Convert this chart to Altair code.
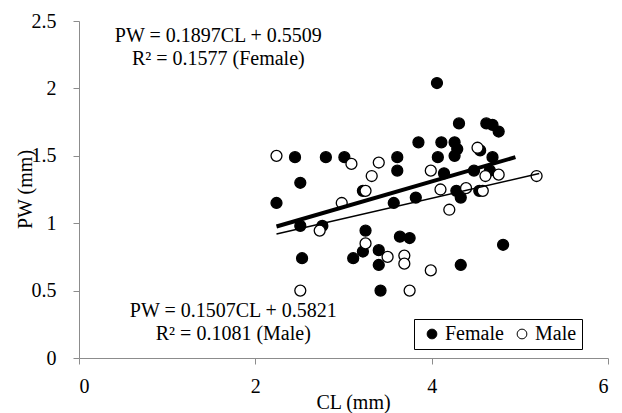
import altair as alt
import pandas as pd

# ---- data ----
female_cl = [2.24, 2.45, 2.51, 2.51, 2.53, 2.76, 2.80, 3.01, 3.11, 3.22, 3.22, 3.25, 3.40, 3.40,
             3.42, 3.57, 3.61, 3.61, 3.64, 3.75, 3.82, 3.85, 4.06, 4.07, 4.11, 4.14, 4.26, 4.26,
             4.29, 4.28, 4.31, 4.33, 4.33, 4.48, 4.54, 4.55, 4.62, 4.69, 4.69, 4.76, 4.81, 4.66]
female_pw = [1.15, 1.49, 1.30, 0.98, 0.74, 0.98, 1.49, 1.49, 0.74, 0.79, 1.24, 0.945, 0.80, 0.69,
             0.50, 1.15, 1.49, 1.39, 0.90, 0.89, 1.19, 1.60, 2.04, 1.49, 1.60, 1.37, 1.60, 1.50,
             1.55, 1.24, 1.74, 1.19, 0.69, 1.39, 1.24, 1.54, 1.74, 1.73, 1.49, 1.68, 0.84, 1.39]
male_cl = [2.24, 2.51, 2.73, 2.98, 3.09, 3.25, 3.25, 3.32, 3.40, 3.50, 3.69, 3.69, 3.75, 3.99,
           3.99, 4.10, 4.20, 4.39, 4.52, 4.58, 4.61, 4.76, 5.19]
male_pw = [1.50, 0.50, 0.945, 1.15, 1.44, 1.24, 0.85, 1.35, 1.45, 0.75, 0.76, 0.70, 0.50, 1.39,
           0.65, 1.25, 1.10, 1.26, 1.56, 1.24, 1.35, 1.36, 1.35]

trend_sex = ["Female", "Male"]
trend_slope = [0.1897, 0.1507]
trend_intercept = [0.5509, 0.5821]
trend_xmin = [2.24, 2.24]
trend_xmax = [4.95, 5.22]

eq_text = ["PW = 0.1897CL + 0.5509", "R\u00b2 = 0.1577 (Female)",
           "PW = 0.1507CL + 0.5821", "R\u00b2 = 0.1081 (Male)"]
eq_x = [1.58, 1.58, 1.75, 1.75]
eq_y = [2.39, 2.215, 0.345, 0.18]

x_ticks = [0, 2, 4, 6]
y_ticks = [0, 0.5, 1, 1.5, 2, 2.5]

# ---- tables ----
pts = pd.DataFrame({
    "CL": female_cl + male_cl,
    "PW": female_pw + male_pw,
    "Sex": ["Female"] * len(female_cl) + ["Male"] * len(male_cl),
})
trend_rows = []
for s, m, b, x0, x1 in zip(trend_sex, trend_slope, trend_intercept, trend_xmin, trend_xmax):
    trend_rows.append({"Sex": s, "CL": x0, "PW": m * x0 + b})
    trend_rows.append({"Sex": s, "CL": x1, "PW": m * x1 + b})
trend = pd.DataFrame(trend_rows)
eqs = pd.DataFrame({"x": eq_x, "y": eq_y, "t": eq_text})

FONT = "Liberation Serif"
GREY = "#8c8c8c"
FS = 20

x_scale = alt.Scale(domain=[0, 6], nice=False, zero=False)
y_scale = alt.Scale(domain=[0, 2.5], nice=False, zero=False)

x_enc = alt.X("CL:Q", scale=x_scale, axis=alt.Axis(
    title="CL (mm)", values=x_ticks, format="~g", grid=False,
    domainColor=GREY, tickColor=GREY, tickSize=6, labelPadding=12,
    labelFont=FONT, labelFontSize=FS, labelColor="black",
    titleFont=FONT, titleFontSize=FS, titleFontWeight="normal", titleColor="black",
    titleX=274, titleY=44, titleBaseline="middle", titleAlign="center"))
y_enc = alt.Y("PW:Q", scale=y_scale, axis=alt.Axis(
    title="PW (mm)", values=y_ticks, format="~g", grid=False,
    domainColor=GREY, tickColor=GREY, tickSize=6, labelPadding=17,
    labelFont=FONT, labelFontSize=FS, labelColor="black",
    titleFont=FONT, titleFontSize=FS, titleFontWeight="normal", titleColor="black",
    titleX=-54, titleY=168, titleBaseline="middle", titleAlign="center", titleAngle=270))

points = alt.Chart(pts).mark_circle(size=120, stroke="black", strokeWidth=1.3, opacity=1).encode(
    x=x_enc,
    y=y_enc,
    fill=alt.Fill("Sex:N",
                  scale=alt.Scale(domain=["Female", "Male"], range=["black", "white"]),
                  legend=alt.Legend(orient="none", legendX=335, legendY=298,
                                    direction="horizontal", title=None,
                                    strokeColor="black", fillColor="white", padding=5,
                                    labelFont=FONT, labelFontSize=FS, labelColor="black",
                                    symbolType="circle", symbolSize=95, symbolOffset=3,
                                    symbolStrokeColor="black", symbolStrokeWidth=1,
                                    columnPadding=5, labelOffset=3)),
)

line_f = alt.Chart(trend[trend.Sex == "Female"]).mark_line(color="black", strokeWidth=4).encode(
    x=alt.X("CL:Q", scale=x_scale), y=alt.Y("PW:Q", scale=y_scale))
line_m = alt.Chart(trend[trend.Sex == "Male"]).mark_line(color="black", strokeWidth=1.5).encode(
    x=alt.X("CL:Q", scale=x_scale), y=alt.Y("PW:Q", scale=y_scale))

texts = alt.Chart(eqs).mark_text(font=FONT, fontSize=FS, align="center", baseline="middle",
                                 color="black").encode(
    x=alt.X("x:Q", scale=x_scale), y=alt.Y("y:Q", scale=y_scale), text="t:N")

chart = alt.layer(points, line_f, line_m, texts).properties(
    width=529, height=337,
    autosize=alt.AutoSizeParams(type="none"),
    padding={"left": 71, "top": 13, "right": 6, "bottom": 56},
    background="white",
).configure_view(stroke=None)

chart.save("out.html", embed_options={"renderer": "svg", "actions": False})
